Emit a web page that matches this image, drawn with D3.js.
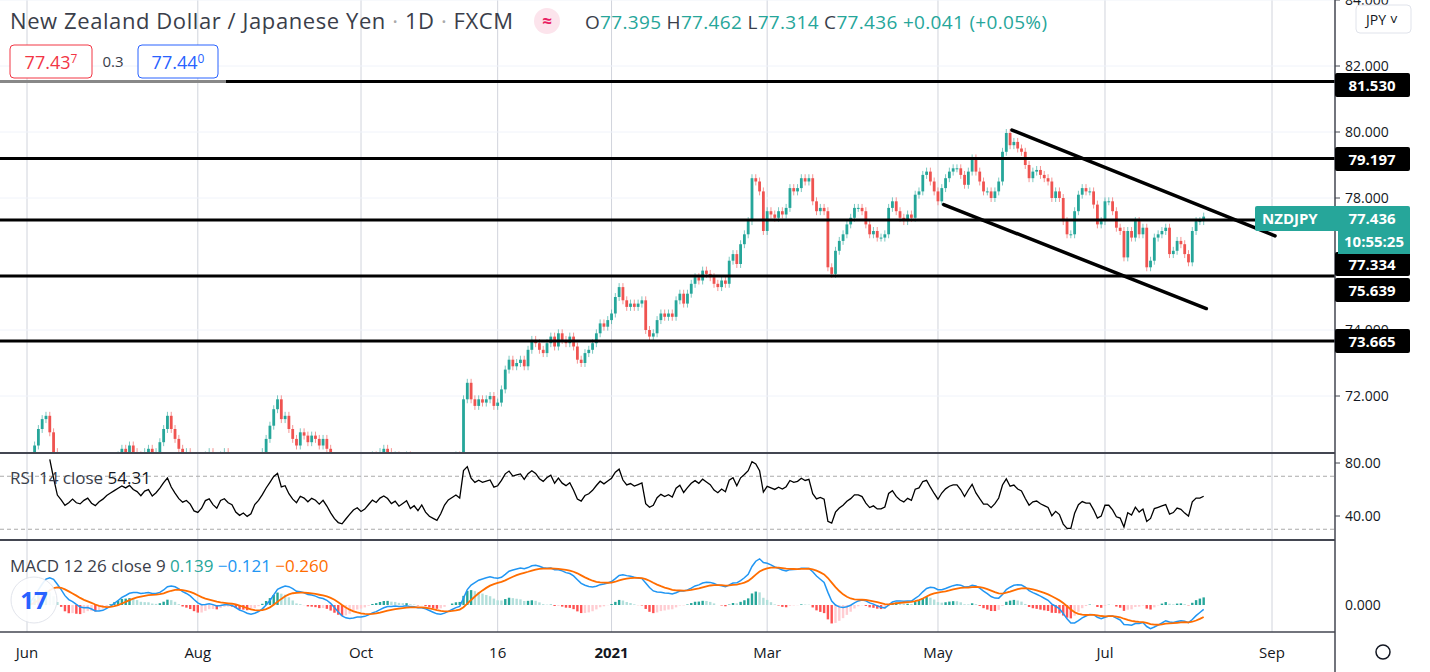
<!DOCTYPE html>
<html><head><meta charset="utf-8">
<script src="https://cdn.jsdelivr.net/npm/d3@7"></script>
<style>body{margin:0;background:#fff;font-family:"Open Sans",Roboto,sans-serif}svg text{font-family:"Open Sans",Roboto,sans-serif}</style>
</head><body><svg id="c" width="1430" height="672"></svg>
<script>
// daily closes, Jun 1 2020 .. Aug 9 2021 (5 trading days per row)
const closes = [
69.0,69.8,70.5,71.0,71.3, 71.4,70.9,70.3,69.5,69.2, 68.8,69.0,69.3,69.0,68.9, 69.2,69.4,69.0,68.8,69.1,
69.3,69.6,69.8,70.0,70.2, 70.4,70.3,70.5,70.3,70.2, 70.0,70.3,70.4,70.1,70.3, 70.6,71.0,71.4,71.0,70.7,
70.4,70.2,70.3,70.1,69.7, 69.6,69.8,70.2,70.3,70.0, 69.8,70.2,70.3,70.1,70.0, 69.6,69.4,69.5,69.3,69.4,
69.8,70.0,70.3,70.7,71.1, 71.6,71.9,71.3,71.4,71.0, 70.7,70.5,70.9,70.8,70.6, 70.8,70.7,70.5,70.7,70.4,
70.0,69.6,69.3,69.2,69.4, 69.6,69.8,69.9,69.7,69.8, 70.0,70.2,70.1,70.3,70.4, 70.3,70.1,70.2,70.0,70.1,
70.2,69.9,70.0,69.8,70.0, 69.7,69.5,69.4,69.3,69.5, 69.8,70.0,70.1,70.2,70.1, 71.9,72.4,71.9,71.7,71.9,
71.8,71.9,72.0,71.7,71.8, 72.2,72.8,73.1,72.9,73.0, 73.1,72.9,73.4,73.7,73.6, 73.4,73.3,73.6,73.8,73.5,
73.9,73.7,73.6,73.8,73.5, 73.1,73.0,73.3,73.4,73.6, 73.9,74.2,74.1,74.3,74.5, 75.0,75.3,74.9,74.7,74.8,
74.7,74.8,74.9,74.0,73.8, 73.9,74.3,74.5,74.4,74.5, 74.4,74.9,75.1,74.8,75.1, 75.4,75.6,75.5,75.8,75.7,
75.6,75.4,75.3,75.5,75.4, 76.1,76.3,76.0,76.6,76.9, 77.3,78.6,78.5,78.2,77.0, 77.6,77.5,77.4,77.6,77.5,
77.7,78.3,78.2,78.3,78.6, 78.5,78.6,77.9,77.6,77.7, 77.6,75.9,75.7,76.4,76.7, 76.9,77.2,77.4,77.7,77.7,
77.6,77.2,76.9,77.0,76.8, 76.8,76.9,77.7,77.9,77.6, 77.4,77.3,77.5,77.4,78.1, 78.2,78.7,78.8,78.5,78.2,
77.9,78.3,78.6,78.8,78.9, 78.9,78.7,78.4,78.8,79.2, 78.8,78.5,78.2,78.2,78.0, 78.2,78.5,79.4,79.97,79.6,
79.7,79.5,79.4,79.0,78.6, 78.8,78.85,78.7,78.6,78.5, 78.0,78.2,78.0,77.3,76.9, 76.9,77.6,78.1,78.3,78.2,
78.2,77.8,77.2,77.3,77.9, 77.9,77.6,77.1,77.0,76.2, 77.0,76.8,77.3,76.9,77.1, 75.9,76.1,76.8,76.9,77.0,
77.1,76.3,76.4,76.7,76.6, 76.3,76.05,77.0,77.3,77.3, 77.436];
const levels = [81.530, 79.197, 77.334, 75.639, 73.665];
const priceTicks = [84, 82, 80, 78, 74, 72];
const monthLabels = [["Jun",0],["Aug",45],["Oct",88],["16",124],["2021",154],["Mar",195],["May",240],["Jul",284],["Sep",328]];
const trendUpper = [[259.5,80.06],[328.8,76.85]];
const trendLower = [[241.5,77.8],[310.7,74.65]];
const rsiTicks=[80,40];

const svg=d3.select("#c");
const W=1335;
const x=d3.scaleLinear().domain([0,328]).range([27,1272]);
const y=d3.scaleLinear().domain([78,80]).range([198,132]);
const yr=d3.scaleLinear().domain([40,80]).range([516,463]);
const ym=d3.scaleLinear().domain([0,1]).range([605,553]);
const up="#26a69a",dn="#ef5350";

const data=closes.map((c,i)=>{const o=i?closes[i-1]:c-0.2;return {i,o,c,h:Math.max(o,c)+0.12,l:Math.min(o,c)-0.12};});
let ag=0,al=0;const rsi=[];
closes.forEach((c,i)=>{if(!i){rsi.push(null);return;}const d=c-closes[i-1],g=Math.max(d,0),l=Math.max(-d,0);
 if(i<=14){ag+=g/14;al+=l/14;}else{ag=(ag*13+g)/14;al=(al*13+l)/14;}
 rsi.push(i>=6?100-100/(1+ag/Math.max(al,1e-6)):null);});
function ema(a,n){const k=2/(n+1);let e=a[0];return a.map(v=>e=v*k+e*(1-k));}
const e12=ema(closes,12),e26=ema(closes,26);const macd=closes.map((_,i)=>e12[i]-e26[i]);const sig=ema(macd,9);
const hist=macd.map((m,i)=>m-sig[i]);

svg.append("g").selectAll("line").data(monthLabels).join("line").attr("x1",d=>x(d[1])).attr("x2",d=>x(d[1]))
 .attr("y1",0).attr("y2",632).attr("stroke","#d1d4dc").attr("stroke-width",1);
svg.append("g").selectAll("line").data(priceTicks).join("line").attr("x1",0).attr("x2",W).attr("y1",d=>y(d)).attr("y2",d=>y(d)).attr("stroke","#f0f3fa");

const defs=svg.append("defs");
defs.append("clipPath").attr("id","cp").append("rect").attr("x",0).attr("y",0).attr("width",W).attr("height",453);
defs.append("clipPath").attr("id","cr").append("rect").attr("x",0).attr("y",454).attr("width",W).attr("height",85);

const cg=svg.append("g").attr("clip-path","url(#cp)");
cg.selectAll(".w").data(data).join("line").attr("x1",d=>x(d.i)).attr("x2",d=>x(d.i)).attr("y1",d=>y(d.h)).attr("y2",d=>y(d.l))
 .attr("stroke",d=>d.c>=d.o?up:dn).attr("opacity",0.6);
cg.selectAll(".b").data(data).join("rect").attr("x",d=>x(d.i)-1.4).attr("width",2.8)
 .attr("y",d=>y(Math.max(d.o,d.c))).attr("height",d=>Math.max(1,y(Math.min(d.o,d.c))-y(Math.max(d.o,d.c))))
 .attr("fill",d=>d.c>=d.o?up:dn);

svg.append("g").selectAll("line").data(levels).join("line").attr("x1",0).attr("x2",W).attr("y1",d=>y(d)).attr("y2",d=>y(d)).attr("stroke","#000").attr("stroke-width",3);
svg.append("line").attr("x1",0).attr("x2",226).attr("y1",y(levels[0])).attr("y2",y(levels[0])).attr("stroke","#888").attr("stroke-width",3);
[trendUpper,trendLower].forEach(t=>svg.append("line").attr("x1",x(t[0][0])).attr("y1",y(t[0][1])).attr("x2",x(t[1][0])).attr("y2",y(t[1][1])).attr("stroke","#000").attr("stroke-width",3.5).attr("stroke-linecap","round"));

[453,540,632].forEach(v=>svg.append("line").attr("x1",0).attr("x2",W).attr("y1",v).attr("y2",v).attr("stroke","#434651").attr("stroke-width",v==632?1.5:2));
svg.append("line").attr("x1",W).attr("x2",W).attr("y1",0).attr("y2",672).attr("stroke","#434651").attr("stroke-width",1.5);

const ax=svg.append("g").attr("font-size",14).attr("fill","#131722");
priceTicks.forEach(p=>{ax.append("text").attr("x",1345).attr("y",y(p)+5).text(p.toFixed(3));
 svg.append("line").attr("x1",W).attr("x2",W+5).attr("y1",y(p)).attr("y2",y(p)).attr("stroke","#434651");});
const labY=[85,159,264,290,341];
levels.forEach((p,k)=>{const g=svg.append("g");
 g.append("rect").attr("x",W).attr("y",labY[k]-12).attr("width",75).attr("height",24).attr("fill","#000").attr("rx",2);
 g.append("text").attr("x",1372).attr("y",labY[k]+5.5).attr("text-anchor","middle").attr("fill","#fff").attr("font-size",15).attr("font-weight","bold").text(p.toFixed(3));});
svg.append("rect").attr("x",1255).attr("y",206).attr("width",155).attr("height",25).attr("fill",up).attr("rx",2);
svg.append("rect").attr("x",1338).attr("y",229).attr("width",72).attr("height",25).attr("fill",up);
svg.append("text").attr("x",1262).attr("y",224).attr("fill","#fff").attr("font-size",15).attr("font-weight","bold").text("NZDJPY");
svg.append("text").attr("x",1372).attr("y",224).attr("text-anchor","middle").attr("fill","#fff").attr("font-size",15).attr("font-weight","bold").text(closes[closes.length-1].toFixed(3));
svg.append("text").attr("x",1374).attr("y",247).attr("text-anchor","middle").attr("fill","#fff").attr("font-size",15).attr("font-weight","bold").text("10:55:25");
svg.append("rect").attr("x",1356).attr("y",5).attr("width",55).attr("height",28).attr("rx",4).attr("fill","#fff").attr("stroke","#e0e3eb");
svg.append("text").attr("x",1366).attr("y",25).attr("font-size",14).attr("fill","#131722").text("JPY ˅");

[70,30].forEach(v=>svg.append("line").attr("x1",0).attr("x2",W).attr("y1",yr(v)).attr("y2",yr(v)).attr("stroke","#aaa").attr("stroke-dasharray","4,3"));
svg.append("path").attr("clip-path","url(#cr)").datum(rsi.map((v,i)=>[i,v]).filter(d=>d[1]!=null))
 .attr("d",d3.line().x(d=>x(d[0])).y(d=>yr(d[1]))).attr("fill","none").attr("stroke","#000").attr("stroke-width",1.3);
rsiTicks.forEach(v=>{svg.append("text").attr("x",1345).attr("y",yr(v)+5).attr("font-size",14).attr("fill","#131722").text(v.toFixed(2));
 svg.append("line").attr("x1",W).attr("x2",W+5).attr("y1",yr(v)).attr("y2",yr(v)).attr("stroke","#434651");});
const rl=svg.append("text").attr("x",10).attr("y",484).attr("font-size",17).attr("fill","#3a3e4a");
rl.append("tspan").text("RSI 14 close  ");rl.append("tspan").attr("fill","#131722").text("54.31");

const hc=(v,i)=>v>=0?(i&&v<hist[i-1]?"#b2dfdb":up):(i&&v>hist[i-1]?"#ffcdd2":"#ff5252");
svg.append("g").selectAll("rect").data(hist).join("rect").attr("x",(d,i)=>x(i)-1.2).attr("width",2.4)
 .attr("y",d=>Math.min(ym(d),ym(0))).attr("height",d=>Math.abs(ym(d)-ym(0))).attr("fill",(d,i)=>hc(d,i));
svg.append("path").datum(macd).attr("d",d3.line().x((d,i)=>x(i)).y(d=>ym(d))).attr("fill","none").attr("stroke","#2196f3").attr("stroke-width",1.5);
svg.append("path").datum(sig).attr("d",d3.line().x((d,i)=>x(i)).y(d=>ym(d))).attr("fill","none").attr("stroke","#ff6d00").attr("stroke-width",1.8);
svg.append("text").attr("x",1345).attr("y",ym(0)+5).attr("font-size",14).attr("fill","#131722").text("0.000");
const ml=svg.append("text").attr("x",10).attr("y",572).attr("font-size",17).attr("fill","#3a3e4a");
ml.append("tspan").text("MACD 12 26 close 9  ");ml.append("tspan").attr("fill",up).text("0.139  ");
ml.append("tspan").attr("fill","#2196f3").text("−0.121  ");ml.append("tspan").attr("fill","#ff6d00").text("−0.260");
svg.append("circle").attr("cx",34).attr("cy",600).attr("r",23).attr("fill","#fff").attr("stroke","#e0e3eb").attr("opacity",0.9);
svg.append("text").attr("x",34).attr("y",609).attr("text-anchor","middle").attr("font-size",24).attr("font-weight","bold").attr("fill","#2962ff").text("17");

svg.append("g").selectAll("text").data(monthLabels).join("text").attr("x",d=>x(d[1])).attr("y",658).attr("text-anchor","middle")
 .attr("font-size",15).attr("font-weight",d=>d[0]=="2021"?"bold":"normal").attr("fill","#131722").text(d=>d[0]);
svg.append("circle").attr("cx",1383).attr("cy",652).attr("r",7).attr("fill","none").attr("stroke","#131722").attr("stroke-width",1.5);

// header
const h=svg.append("text").attr("x",10).attr("y",29).attr("font-size",22).attr("fill","#3a3e4a").attr("textLength",503);
h.append("tspan").text("New Zealand Dollar / Japanese Yen ");h.append("tspan").attr("fill","#aaa").text("·");
h.append("tspan").text(" 1D ");h.append("tspan").attr("fill","#aaa").text("·");h.append("tspan").text(" FXCM");
svg.append("circle").attr("cx",547).attr("cy",21).attr("r",13).attr("fill","#fce4ec");
svg.append("text").attr("x",547).attr("y",27).attr("text-anchor","middle").attr("font-size",17).attr("font-weight","bold").attr("fill","#e91e63").text("≈");
const o=svg.append("text").attr("x",585).attr("y",29).attr("font-size",19).attr("fill",up).attr("textLength",462);
[["O","77.395"],["H","77.462"],["L","77.314"],["C","77.436"]].forEach(p=>{o.append("tspan").attr("fill","#3a3e4a").text(p[0]);o.append("tspan").text(p[1]+" ");});
o.append("tspan").text("+0.041 (+0.05%)");
function priceBox(x0,w,col,main,sup){svg.append("rect").attr("x",x0).attr("y",45).attr("width",w).attr("height",33).attr("rx",4).attr("fill","#fff").attr("stroke",col);
 const t=svg.append("text").attr("x",x0+w/2).attr("y",69).attr("text-anchor","middle").attr("font-size",18).attr("fill",col);
 t.append("tspan").text(main);t.append("tspan").attr("font-size",12).attr("dy",-6).text(sup);}
priceBox(10,82,"#f23645","77.43","7");
priceBox(138,80,"#2962ff","77.44","0");
svg.append("text").attr("x",113).attr("y",67).attr("text-anchor","middle").attr("font-size",15).attr("fill","#3a3e4a").text("0.3");
</script></body></html>
